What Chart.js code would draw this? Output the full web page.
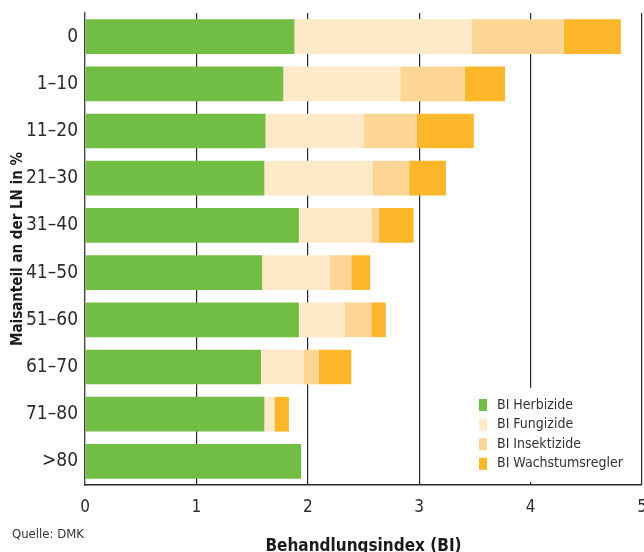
<!DOCTYPE html>
<html>
<head>
<meta charset="utf-8">
<script src="https://cdn.jsdelivr.net/npm/chart.js@4"></script>
<style>
  html, body { margin: 0; padding: 0; background: #fff; overflow: hidden; }
  #bi-chart { display: block; }
</style>
</head>
<body>
<canvas id="bi-chart" width="644" height="552"></canvas>
<script>
"use strict";

// Maisanteil an der LN in % (Kategorien von oben nach unten)
const categories = ["0", "1–10", "11–20", "21–30", "31–40", "41–50", "51–60", "61–70", "71–80", ">80"];
const herbizide = [1.88, 1.78, 1.62, 1.61, 1.92, 1.59, 1.92, 1.58, 1.61, 1.94];
const fungizide = [1.59, 1.05, 0.88, 0.97, 0.65, 0.61, 0.41, 0.38, 0.09, 0];
const insektizide = [0.83, 0.58, 0.48, 0.33, 0.07, 0.19, 0.24, 0.14, 0, 0];
const wachstumsregler = [0.51, 0.36, 0.51, 0.33, 0.31, 0.17, 0.13, 0.29, 0.13, 0];
const xTicks = [0, 1, 2, 3, 4, 5];

const fontFamily = '"Liberation Sans Narrow", "DejaVu Sans Condensed", "Roboto", sans-serif';
Chart.defaults.font.family = fontFamily;
Chart.defaults.color = "#2b2b2b";

// legend drawn inside the plot, bottom right, on a white box
const insideLegend = {
    id: "insideLegend",
    afterDatasetsDraw(chart) {
        let ctx = chart.ctx;
        let area = chart.chartArea;
        let left = area.right - 170;
        let top = area.bottom - 97;
        ctx.save();
        ctx.fillStyle = "#fff";
        ctx.fillRect(left, top, 163, 94);
        ctx.font = "14px " + fontFamily;
        ctx.textBaseline = "middle";
        chart.data.datasets.forEach(function(ds, i) {
            let y = top + 17 + i * 19.6;
            ctx.fillStyle = ds.backgroundColor;
            ctx.fillRect(left + 7, y - 6, 8, 12);
            ctx.fillStyle = "#333";
            ctx.fillText(ds.label, left + 25, y);
        });
        ctx.restore();
    }
};

function barSet(label, data, color) {
    return {
        label: label,
        data: data,
        backgroundColor: color,
        borderWidth: 0,
        barPercentage: 1,
        categoryPercentage: 0.735
    };
}

let chart = new Chart(document.getElementById("bi-chart"), {
    type: "bar",
    data: {
        labels: categories,
        datasets: [
            barSet("BI Herbizide", herbizide, "#72be44"),
            barSet("BI Fungizide", fungizide, "#fee9c8"),
            barSet("BI Insektizide", insektizide, "#fdd594"),
            barSet("BI Wachstumsregler", wachstumsregler, "#fbb62a")
        ]
    },
    options: {
        indexAxis: "y",
        responsive: false,
        animation: false,
        layout: { padding: { top: 13, right: 2, left: 0, bottom: 0 } },
        plugins: {
            legend: { display: false },
            tooltip: { enabled: false }
        },
        scales: {
            x: {
                stacked: true,
                min: xTicks[0],
                max: xTicks[xTicks.length - 1],
                afterBuildTicks: function(scale) {
                    scale.ticks = xTicks.map(function(v) { return { value: v }; });
                },
                grid: { color: "#2a2a2a", lineWidth: 1.2, drawTicks: false },
                border: { display: true, color: "#2a2a2a", width: 1.5 },
                ticks: { padding: 12, font: { size: 17 }, color: "#2b2b2b" },
                title: {
                    display: true,
                    text: "Behandlungsindex (BI)",
                    color: "#1a1a1a",
                    font: { size: 17, weight: "bold" },
                    padding: { top: 0, bottom: -5 }
                },
                afterFit: function(scale) {
                    scale.height = 67;
                    scale.paddingRight = 0;
                    scale.paddingLeft = 0;
                }
            },
            y: {
                stacked: true,
                grid: { display: false, drawTicks: false },
                border: { display: true, color: "#444", width: 1.2 },
                ticks: { padding: 7, font: { size: 19 }, color: "#2b2b2b" },
                title: {
                    display: true,
                    text: "Maisanteil an der LN in %",
                    color: "#1a1a1a",
                    font: { size: 15, weight: "bold" },
                    padding: { top: 9, bottom: 0 }
                },
                afterFit: function(scale) {
                    scale.width = 85;
                    scale.paddingTop = 0;
                    scale.paddingBottom = 0;
                }
            }
        }
    },
    plugins: [insideLegend, {
        id: "source",
        afterDraw(c) {
            let ctx = c.ctx;
            ctx.save();
            ctx.font = "13px " + fontFamily;
            ctx.fillStyle = "#333";
            ctx.textBaseline = "middle";
            ctx.fillText("Quelle: DMK", 12, 535);
            ctx.restore();
        }
    }]
});
</script>
</body>
</html>
